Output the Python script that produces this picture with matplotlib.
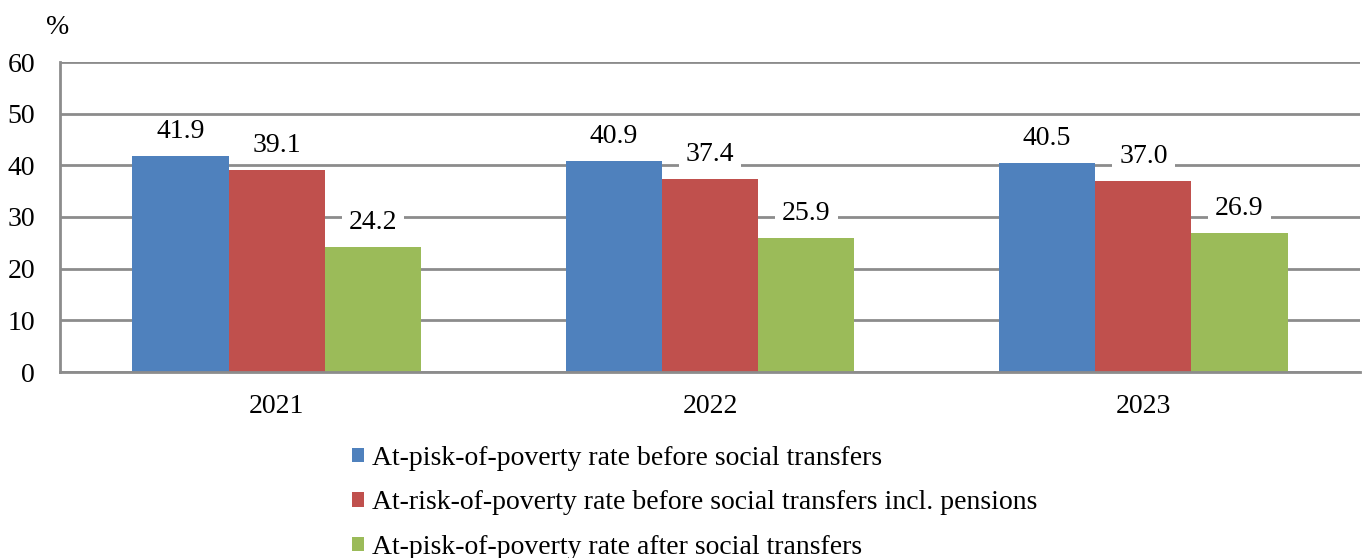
import matplotlib.pyplot as plt
from matplotlib.path import Path
import numpy as np

years = ["2021", "2022", "2023"]
before_transfers = [41.9, 40.9, 40.5]
before_incl_pensions = [39.1, 37.4, 37.0]
after_transfers = [24.2, 25.9, 26.9]
series_names = [
    "At-pisk-of-poverty rate before social transfers",
    "At-risk-of-poverty rate before social transfers incl. pensions",
    "At-pisk-of-poverty rate after social transfers",
]
colors = ["#4F81BD", "#C0504D", "#9BBB59"]
y_ticks = [0, 10, 20, 30, 40, 50, 60]

plt.rcParams["font.family"] = ["Liberation Serif", "DejaVu Serif"]
FS = 20
W, H = 13.65, 5.58
fig = plt.figure(figsize=(W, H), dpi=100)
ax = fig.add_axes([60 / 1365, 1 - 372 / 558, 1300 / 1365, 310 / 558])


def label_box(x0, y0, width, height, mutation_size):
    # white background around a value label, wider than the text
    xa, xb = x0 - 7, x0 + width + 7
    ya, yb = y0 - 4, y0 + height + 2
    return Path([(xa, ya), (xb, ya), (xb, yb), (xa, yb), (xa, ya)], closed=True)


x = np.arange(len(years))
bw = 0.222
grid_c = "#8C8C8C"
for yv in y_ticks:
    ax.axhline(yv, color=grid_c, lw=2, zorder=0)

for i, (vals, c) in enumerate(zip([before_transfers, before_incl_pensions, after_transfers], colors)):
    pos = x + (i - 1) * bw
    ax.bar(pos, vals, width=bw, color=c, zorder=2, label=series_names[i])
    for p, v in zip(pos, vals):
        ax.annotate(f"{v:.1f}", (p, v), xytext=(0, 18), textcoords="offset pixels",
                    ha="center", va="baseline", fontsize=FS, zorder=3,
                    bbox=dict(boxstyle=label_box, fc="white", ec="none"))

ax.set_xlim(-0.5, 2.5)
ax.set_ylim(0, 60)
ax.set_yticks(y_ticks)
ax.set_yticklabels([str(t) for t in y_ticks], fontsize=FS)
ax.set_xticks(x)
ax.set_xticklabels(years, fontsize=FS)
ax.tick_params(axis="both", length=0)
ax.tick_params(axis="y", pad=18)
ax.tick_params(axis="x", pad=16)
for s in ["top", "right"]:
    ax.spines[s].set_visible(False)
for s in ["left", "bottom"]:
    ax.spines[s].set_color(grid_c)
    ax.spines[s].set_linewidth(2)

fig.text(58 / 1365, 1 - 27 / 558, "%", fontsize=FS, ha="center", va="center")

handles, labels = ax.get_legend_handles_labels()
fig.legend(handles, labels, loc="upper left", bbox_to_anchor=(352 / 1365, 1 - 446 / 558),
           frameon=False, fontsize=FS, handlelength=0.43, handleheight=0.43,
           handletextpad=0.3, labelspacing=0.7, borderaxespad=0, borderpad=0)

fig.savefig("out.png", dpi=100)
